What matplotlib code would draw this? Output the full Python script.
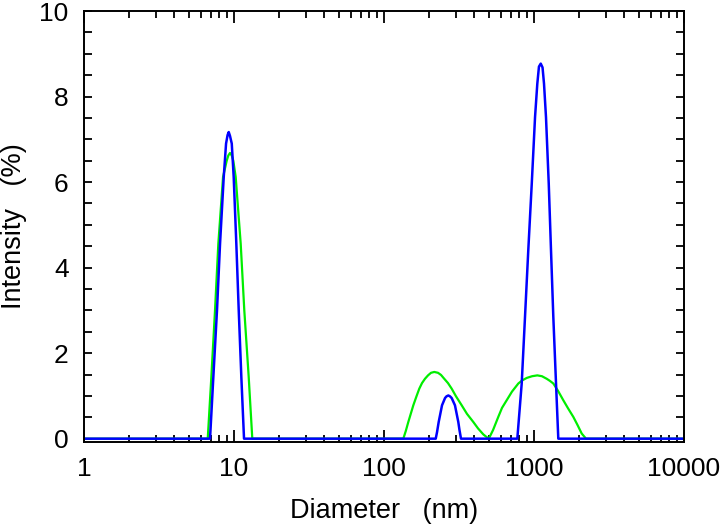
import matplotlib
matplotlib.use("Agg")
from matplotlib import pyplot as plt
from matplotlib.ticker import FixedLocator, NullFormatter, MultipleLocator
import numpy as np

plt.rcParams['font.family'] = ['Liberation Sans', 'DejaVu Sans']

# green curve: diameter (nm), intensity (%)
green_d = [0.4, 6.68, 7.06, 7.47, 7.86, 8.45, 8.94, 9.16, 9.40, 9.66, 9.89, 10.26, 11.08, 11.71, 12.53, 13.24,
           134.5, 139.7, 145.2, 156.8, 164.2, 171.9, 179.2, 187.5, 196.5, 205.7, 216.3, 229.1, 239.9,
           252.2, 267.0, 282.5, 302.0, 329.6, 357.4, 393.9, 423.4, 459.2, 485.9, 501.2,
           533.0, 578, 611.9, 658, 713.0, 786, 831.8, 894, 970.2, 1052, 1130, 1216, 1278, 1345,
           1445, 1567, 1686, 1828, 1950, 2080, 2222, 10000]
green_i = [0, 0, 1.44, 3.0, 4.56, 6.12, 6.5, 6.62, 6.68, 6.62, 6.5, 6.12, 4.56, 3.0, 1.44, 0,
           0, 0.18, 0.39, 0.78, 0.98, 1.17, 1.30, 1.40, 1.48, 1.54, 1.56, 1.54, 1.49,
           1.40, 1.30, 1.17, 0.99, 0.78, 0.58, 0.39, 0.24, 0.10, 0.03, 0.01,
           0.2, 0.51, 0.72, 0.9, 1.1, 1.29, 1.36, 1.42, 1.46, 1.48, 1.46, 1.40, 1.35, 1.29,
           1.12, 0.9, 0.71, 0.51, 0.32, 0.12, 0, 0]

# blue curve
blue_d = [0.4, 6.92, 7.28, 7.70, 8.07, 8.54, 8.85, 9.06, 9.22, 9.40, 9.66, 9.95, 10.36, 10.75, 11.19, 11.66,
          221.2, 225.6, 231.5, 243.6, 255.2, 261.1, 268.4, 275.4, 282.6, 297.2, 312.8, 318.6, 326,
          774, 828, 871, 916, 966, 1016, 1052, 1079, 1109, 1140, 1166, 1202, 1254, 1298, 1345, 1402, 1452, 10000]
blue_i = [0, 0, 1.44, 3.0, 4.56, 6.12, 6.9, 7.10, 7.17, 7.08, 6.9, 6.12, 4.56, 3.0, 1.44, 0,
          0, 0.15, 0.39, 0.78, 0.95, 0.99, 1.01, 0.99, 0.95, 0.78, 0.39, 0.2, 0,
          0, 1.29, 2.85, 4.41, 5.96, 7.52, 8.3, 8.7, 8.77, 8.68, 8.3, 7.52, 5.96, 4.41, 2.85, 1.29, 0, 0]

fig = plt.figure(figsize=(7.2, 5.32), dpi=100)
ax = fig.add_axes([0.1167, 0.169, 0.8333, 0.8103])

ax.plot(green_d, green_i, color='#00ee00', lw=1.6)
ax.plot(blue_d, blue_i, color='#0000ff', lw=1.8)

ax.set_xscale('log')
ax.set_xlim(1, 10000)
ax.set_ylim(-0.08, 10)

ax.xaxis.set_major_locator(FixedLocator([1, 10, 100, 1000, 10000]))
ax.set_xticklabels(['1', '10', '100', '1000', '10000'])
minors = [m * 10**e for e in range(0, 4) for m in range(2, 10)]
ax.xaxis.set_minor_locator(FixedLocator(minors))
ax.xaxis.set_minor_formatter(NullFormatter())
ax.yaxis.set_major_locator(MultipleLocator(2))
ax.yaxis.set_minor_locator(MultipleLocator(0.5))

ax.tick_params(which='both', direction='in', top=True, right=True, width=1.3, labelsize=19)
ax.tick_params(axis='x', which='major', length=8.5, pad=11)
ax.tick_params(axis='x', which='minor', length=5)
ax.tick_params(axis='y', which='both', length=6, pad=11)
for s in ax.spines.values():
    s.set_linewidth(1.4)

ax.set_xlabel('Diameter   (nm)', fontsize=19.5, labelpad=12)
ax.set_ylabel('Intensity   (%)', fontsize=19.5, labelpad=9)

fig.savefig('out.png', dpi=100)
